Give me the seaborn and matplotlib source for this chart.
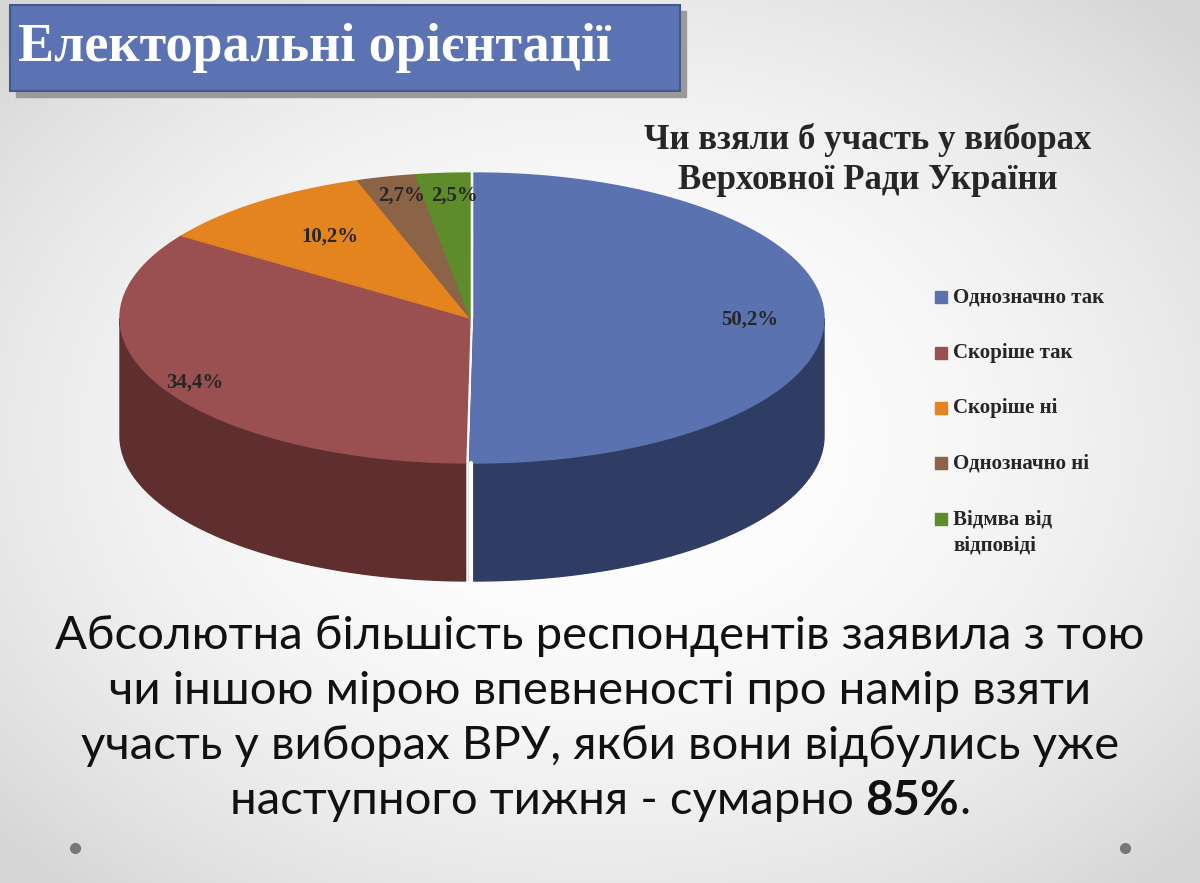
import numpy as np
import matplotlib
matplotlib.use("Agg")
import matplotlib.pyplot as plt
import seaborn as sns
from matplotlib.patches import Polygon, Rectangle

sns.set_theme(style="white")
plt.rcParams['font.family'] = ['Liberation Serif', 'DejaVu Serif']

categories = ["Однозначно так", "Скоріше так", "Скоріше ні", "Однозначно ні", "Відмва від\nвідповіді"]
values = [50.2, 34.4, 10.2, 2.7, 2.5]
labels = ["50,2%", "34,4%", "10,2%", "2,7%", "2,5%"]
top_colors = ["#5B72B0", "#9A4F50", "#E3841E", "#8B6347", "#5E8C2A"]
side_colors = ["#2F3C63", "#5F2E2E", "#9A5510", "#5A3E2A", "#3C5E18"]
label_pos = [(750, 320), (195, 383), (330, 237), (402, 196), (455, 196)]

fig = plt.figure(figsize=(12, 8.83), dpi=100)
ax = fig.add_axes([0, 0, 1, 1])
ax.set_xlim(0, 1200)
ax.set_ylim(883, 0)
ax.axis("off")

# background: soft radial gradient
yy, xx = np.mgrid[0:883, 0:1200]
r = np.sqrt(((xx - 600) / 700) ** 2 + ((yy - 440) / 520) ** 2)
bg = np.clip(1 - 0.12 * r ** 2, 0.84, 1)
ax.imshow(np.dstack([bg, bg, bg]), extent=[0, 1200, 883, 0], zorder=0)

# title box
ax.add_patch(Rectangle((16, 11), 670, 86, color="#9a9a9a", zorder=1))
ax.add_patch(Rectangle((10, 5), 670, 86, color="#5B73B3", ec="#44578a", lw=1.5, zorder=2))
ax.text(18, 48, "Електоральні орієнтації", color="white", fontsize=39, fontweight="bold",
        va="center", ha="left", zorder=3)

# 3D pie
cx, cy, rx, ry, depth = 470, 318, 350, 145, 118
fracs = np.array(values) / sum(values)
edges = np.concatenate([[0], np.cumsum(fracs)]) * 2 * np.pi

def pt(t, dx=0, dy=0):
    return cx + dx + rx * np.sin(t), cy + dy - ry * np.cos(t)

for i in range(len(values)):
    dx = 4 if i == 0 else 0
    a, b = edges[i], edges[i + 1]
    lo, hi = max(a, np.pi / 2), min(b, 3 * np.pi / 2)
    if hi > lo:
        t = np.linspace(lo, hi, 80)
        x, y = pt(t, dx)
        poly = np.column_stack([np.r_[x, x[::-1]], np.r_[y, y[::-1] + depth]])
        ax.add_patch(Polygon(poly, color=side_colors[i], zorder=4))
    if i == 0:
        x0, y0 = pt(b, dx)
        ax.add_patch(Polygon([(cx + dx, cy), (x0, y0), (x0, y0 + depth), (cx + dx, cy + depth)],
                             color=side_colors[0], zorder=3.9))
for i in range(len(values)):
    dx = 4 if i == 0 else 0
    t = np.linspace(edges[i], edges[i + 1], 120)
    x, y = pt(t, dx)
    poly = np.column_stack([np.r_[cx + dx, x], np.r_[cy, y]])
    ax.add_patch(Polygon(poly, color=top_colors[i], zorder=5))
ax.plot([cx + 1, cx + 1], [cy + ry, cy + ry + depth], color="white", lw=3, zorder=6)

for (x, y), lab in zip(label_pos, labels):
    ax.text(x, y, lab, fontsize=15, fontweight="bold", ha="center", va="center", zorder=7)

ax.text(868, 160, "Чи взяли б участь у виборах\nВерховної Ради України", fontsize=25,
        fontweight="bold", ha="center", va="center", linespacing=1.3, zorder=7)

# legend
ly = [297, 353, 408, 463, 519]
for y, c, name in zip(ly, top_colors, categories):
    ax.add_patch(Rectangle((935, y - 6), 12, 12, color=c, zorder=7))
    multi = "\n" in name
    ax.text(953, y - (10 if multi else 0), name, fontsize=15, fontweight="bold", ha="left",
            va="top" if multi else "center", linespacing=1.45, zorder=7)

# bottom text
sans = ['Lato', 'DejaVu Sans']
fs = 34
lines = ["Абсолютна більшість респондентів заявила з тою",
         "чи іншою мірою впевненості про намір взяти",
         "участь у виборах ВРУ, якби вони відбулись уже"]
for k, s in enumerate(lines):
    ax.text(600, 636 + k * 55, s, fontsize=fs, family=sans, ha="center", va="center", color="#111111", zorder=7)

parts = [("наступного тижня - сумарно ", "normal"), ("85%", "bold"), (".", "normal")]
objs = []
x = 0
for s, w in parts:
    t = ax.text(x, 801, s, fontsize=fs, family=sans, fontweight=w, ha="left", va="center",
                color="#111111", zorder=7)
    fig.canvas.draw()
    bb = t.get_window_extent().transformed(ax.transData.inverted())
    objs.append((t, x))
    x = bb.x1
shift = 600 - x / 2
for t, x0 in objs:
    t.set_x(x0 + shift)

for xd in (75, 1125):
    ax.plot(xd, 848, "o", color="#777777", ms=7, zorder=7)

fig.savefig("out.png", dpi=100)
